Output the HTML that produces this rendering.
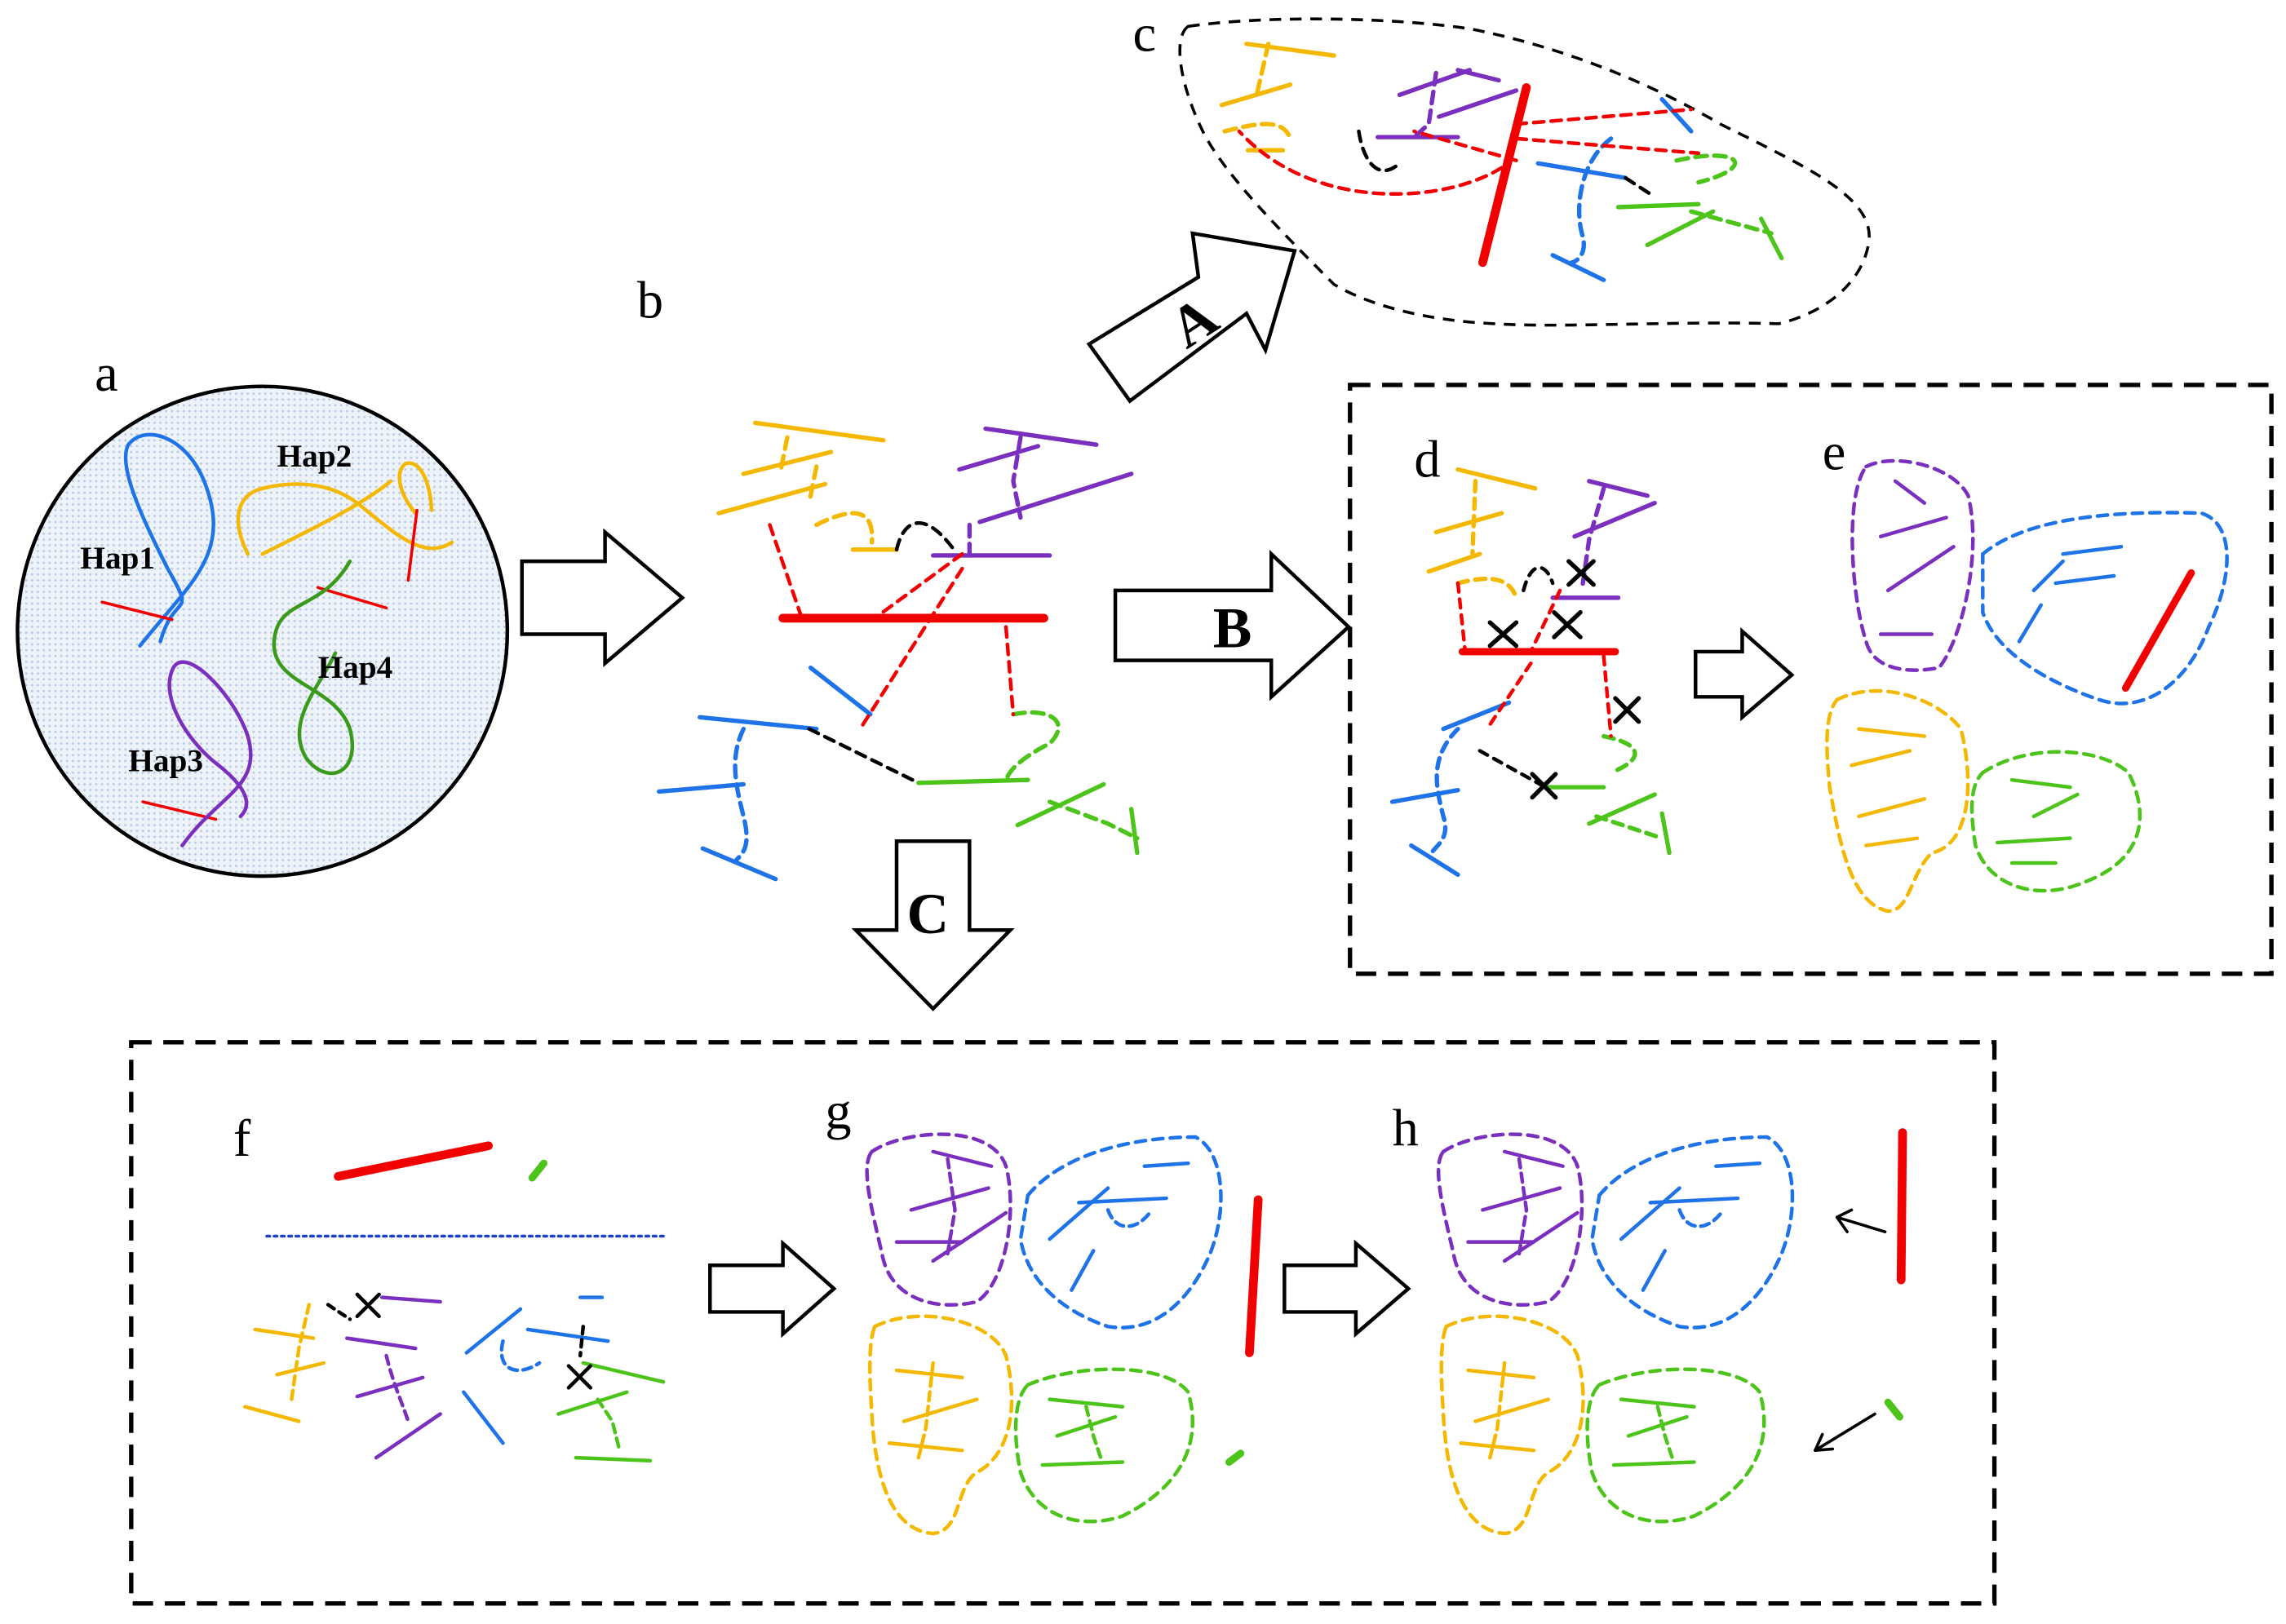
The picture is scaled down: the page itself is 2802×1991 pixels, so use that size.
<!DOCTYPE html>
<html><head><meta charset="utf-8"><style>
html,body{margin:0;padding:0;background:#fff;}
svg{display:block;}
text{font-family:"Liberation Serif",serif;}
</style></head><body>
<svg width="2802" height="1991" viewBox="0 0 1568 1114" xmlns="http://www.w3.org/2000/svg">
<defs>
<pattern id="dots" width="4" height="4" patternUnits="userSpaceOnUse"><rect width="4" height="4" fill="#eef3fa"/><circle cx="2" cy="2" r="0.8" fill="#b7c9e3"/></pattern>
</defs>
<g fill="none" stroke-linecap="round" stroke-linejoin="round">
<!-- panel a -->
<circle cx="180" cy="433" r="168" fill="url(#dots)" stroke="#000" stroke-width="2.5"/>
<path d="M96 443 C130 400 160 380 140 330 C128 300 100 290 88 305 C80 320 100 360 115 390 C135 425 120 405 110 440" stroke="#1e73e8" stroke-width="2.5"/>
<path d="M170 380 C160 360 160 340 180 335 C200 330 225 330 245 345 C270 365 290 385 310 372 M285 352 C275 340 270 325 278 318 C288 315 295 330 296 350 M180 380 C220 360 250 345 268 330" stroke="#f5b800" stroke-width="2.5"/>
<path d="M286 350 L280 398 M70 413 L118 425 M218 403 L265 417 M98 550 L148 562" stroke="#f20000" stroke-width="2"/>
<path d="M240 385 C220 420 190 410 188 440 C186 470 230 470 240 500 C248 530 225 540 210 520 C195 495 220 470 230 448" stroke="#3a9a1a" stroke-width="2.5"/>
<path d="M125 580 C150 545 180 540 170 505 C160 475 125 440 118 460 C110 480 130 510 150 525 C175 545 170 555 165 560" stroke="#7b2fbe" stroke-width="2.5"/>
</g>
<g font-size="22" font-weight="bold" fill="#000">
<text x="55" y="390">Hap1</text><text x="190" y="320">Hap2</text><text x="218" y="465">Hap4</text><text x="88" y="529">Hap3</text>
</g>
<g font-size="36" fill="#000">
<text x="65" y="268">a</text><text x="437" y="218">b</text><text x="777" y="35">c</text><text x="970" y="327">d</text><text x="1250" y="322">e</text><text x="160" y="793">f</text><text x="566" y="774">g</text><text x="955" y="786">h</text>
</g>
<!-- block arrows -->
<g fill="#fff" stroke="#000" stroke-width="2.5" stroke-linejoin="miter">
<path d="M358 385 H415 V365 L468 410 L415 455 V435 H358 Z"/>
<path d="M765 405 H872 V380 L925 430 L872 478 V453 H765 Z"/>
<path d="M615 577 H665 V638 H693 L640 692 L587 638 H615 Z"/>
<path d="M1163 447 H1195 V433 L1229 463 L1195 492 V478 H1163 Z"/>
<path d="M487 868 H537 V853 L572 884 L537 915 V900 H487 Z"/>
<path d="M881 868 H930 V853 L966 884 L930 915 V900 H881 Z"/>
<path d="M747 236 L822 190 L818 160 L888 172 L868 240 L855 215 L775 275 Z"/>
</g>
<g font-size="40" font-weight="bold" fill="#000">
<text x="832" y="444">B</text><text x="622" y="640">C</text>
<text x="0" y="0" text-anchor="middle" transform="translate(826 232) rotate(-33)">A</text>
</g>
<!-- dashed rects -->
<g fill="none" stroke="#000" stroke-width="3" stroke-dasharray="14 8">
<rect x="926" y="264" width="632" height="404"/>
<rect x="90" y="715" width="1278" height="385"/>
<path d="M815 18 C870 10 960 12 1010 20 C1060 30 1120 50 1180 85 C1240 115 1285 135 1282 165 C1278 195 1250 215 1220 222 C1150 220 1070 225 1025 222 C980 220 940 210 915 195 C880 160 840 120 825 90 C808 55 805 25 815 18 Z" stroke-width="2" stroke-dasharray="8 6"/>
</g>
<g fill="none" stroke-width="3" stroke-linecap="round">
<!-- panel b -->
<line x1="537" y1="424" x2="716" y2="424" stroke="#f20000" stroke-width="6"/>
<g stroke="#f5b800"><line x1="518" y1="290" x2="606" y2="302"/><line x1="510" y1="325" x2="570" y2="310"/><line x1="493" y1="352" x2="566" y2="332"/><line x1="585" y1="377" x2="615" y2="377"/><path d="M540 300 L535 325 M560 320 L555 345 M560 360 C580 350 600 345 598 372" stroke-dasharray="8 5"/></g>
<g stroke="#7b2fbe"><line x1="676" y1="294" x2="752" y2="305"/><line x1="658" y1="322" x2="712" y2="306"/><line x1="672" y1="358" x2="776" y2="325"/><line x1="640" y1="381" x2="720" y2="381"/><path d="M700 300 L695 330 L700 355 M665 360 L665 381" stroke-dasharray="8 5"/></g>
<g stroke="#1e73e8"><line x1="480" y1="492" x2="560" y2="500"/><line x1="452" y1="543" x2="510" y2="538"/><line x1="482" y1="582" x2="532" y2="603"/><line x1="556" y1="458" x2="597" y2="490"/><path d="M510 500 C500 520 505 540 510 560 C515 580 510 585 505 590" stroke-dasharray="8 5"/></g>
<g stroke="#4cc41a"><line x1="630" y1="537" x2="705" y2="535"/><line x1="698" y1="566" x2="757" y2="538"/><line x1="776" y1="555" x2="780" y2="585"/><path d="M695 490 C720 485 735 495 720 510 C700 520 690 530 690 537 M720 550 L760 565 L780 575" stroke-dasharray="8 5"/></g>
<g stroke="#f20000" stroke-dasharray="7 5" stroke-width="2.5"><path d="M528 360 L550 424 M660 380 L600 424 M660 390 L590 500 M690 430 L695 490"/></g>
<g stroke="#000" stroke-dasharray="7 5" stroke-width="2.5"><path d="M555 500 L630 537 M615 377 C620 355 635 350 655 378"/></g>
<!-- panel c -->
<line x1="1047" y1="60" x2="1017" y2="180" stroke="#f20000" stroke-width="6"/>
<g stroke="#f5b800"><line x1="855" y1="30" x2="915" y2="38"/><line x1="838" y1="72" x2="885" y2="58"/><line x1="856" y1="103" x2="880" y2="103"/><path d="M870 30 L862 65 M840 90 C860 85 880 80 885 95" stroke-dasharray="8 5"/></g>
<g stroke="#7b2fbe"><line x1="1000" y1="48" x2="1028" y2="55"/><line x1="960" y1="65" x2="1008" y2="48"/><line x1="987" y1="80" x2="1040" y2="62"/><line x1="945" y1="94" x2="1000" y2="94"/><path d="M985 50 L980 85 L970 94" stroke-dasharray="8 5"/></g>
<g stroke="#1e73e8"><line x1="1140" y1="68" x2="1160" y2="90"/><line x1="1055" y1="112" x2="1115" y2="122"/><line x1="1065" y1="175" x2="1100" y2="192"/><path d="M1105 95 C1085 110 1080 140 1085 160 C1090 175 1080 180 1078 180" stroke-dasharray="8 5"/></g>
<g stroke="#4cc41a"><line x1="1110" y1="142" x2="1165" y2="140"/><line x1="1130" y1="168" x2="1175" y2="145"/><line x1="1208" y1="150" x2="1222" y2="177"/><path d="M1150 110 C1195 100 1205 115 1165 125 M1160 145 L1215 160" stroke-dasharray="8 5"/></g>
<g stroke="#f20000" stroke-dasharray="7 5" stroke-width="2.5"><path d="M1040 85 L1160 75 M1040 95 L1165 105 M1040 110 L970 90 M1030 115 C990 140 900 145 850 90"/></g>
<g stroke="#000" stroke-dasharray="7 5" stroke-width="2.5"><path d="M932 90 C935 110 945 125 960 112 M1115 122 L1135 135"/></g>
<!-- panel d -->
<line x1="1003" y1="447" x2="1108" y2="447" stroke="#f20000" stroke-width="5"/>
<g stroke="#f5b800"><line x1="1000" y1="322" x2="1053" y2="335"/><line x1="985" y1="365" x2="1030" y2="352"/><line x1="980" y1="392" x2="1015" y2="380"/><path d="M1012 330 L1010 380 M1000 400 C1020 395 1035 395 1040 410" stroke-dasharray="7 5"/></g>
<g stroke="#7b2fbe"><line x1="1090" y1="330" x2="1130" y2="340"/><line x1="1080" y1="368" x2="1135" y2="345"/><line x1="1065" y1="410" x2="1110" y2="410"/><path d="M1100 335 L1090 370 L1085 405" stroke-dasharray="7 5"/></g>
<g stroke="#1e73e8"><line x1="990" y1="500" x2="1035" y2="482"/><line x1="955" y1="550" x2="1000" y2="542"/><line x1="968" y1="580" x2="1000" y2="600"/><path d="M1000 500 C980 520 985 540 990 560 C995 575 985 580 982 585" stroke-dasharray="7 5"/></g>
<g stroke="#4cc41a"><line x1="1060" y1="540" x2="1100" y2="540"/><line x1="1090" y1="565" x2="1135" y2="545"/><line x1="1140" y1="558" x2="1145" y2="585"/><path d="M1100 505 C1125 510 1130 520 1105 530 M1095 560 L1140 575" stroke-dasharray="7 5"/></g>
<g stroke="#f20000" stroke-dasharray="6 5" stroke-width="2.5"><path d="M1000 400 L1005 447 M1070 405 L1050 447 M1050 455 L1020 500 M1100 450 L1105 505"/></g>
<g stroke="#000" stroke-dasharray="6 5" stroke-width="2.5"><path d="M1015 515 L1060 540 M1045 405 C1050 385 1060 385 1065 400"/></g>
<g stroke="#000" stroke-width="3"><path d="M1022 427 L1040 443 M1040 427 L1022 443 M1066 420 L1084 437 M1084 420 L1066 437 M1076 385 L1093 401 M1093 385 L1076 401 M1108 479 L1124 495 M1124 479 L1108 495 M1051 531 L1067 547 M1067 531 L1051 547"/></g>
<!-- panel e -->
<line x1="1503" y1="393" x2="1458" y2="472" stroke="#f20000" stroke-width="5"/>
<g stroke-dasharray="7 5" stroke-width="2.5">
<path d="M1280 320 C1300 310 1340 320 1350 340 C1360 380 1345 440 1330 458 C1310 462 1285 460 1280 440 C1270 410 1265 340 1280 320 Z" stroke="#7b2fbe"/>
<path d="M1360 380 C1390 355 1450 350 1510 352 C1535 360 1530 400 1515 430 C1500 470 1470 490 1440 480 C1410 470 1370 450 1360 420 Z" stroke="#1e73e8"/>
<path d="M1260 480 C1290 465 1330 480 1345 500 C1355 540 1350 580 1325 585 C1310 600 1310 625 1295 625 C1270 620 1262 580 1255 540 C1252 510 1252 490 1260 480 Z" stroke="#f5b800"/>
<path d="M1360 530 C1390 510 1440 512 1460 530 C1475 560 1470 590 1430 605 C1400 618 1365 610 1355 580 C1352 560 1350 540 1360 530 Z" stroke="#4cc41a"/>
</g>
<g stroke="#7b2fbe" stroke-width="2.5"><line x1="1300" y1="330" x2="1320" y2="345"/><line x1="1290" y1="368" x2="1335" y2="355"/><line x1="1295" y1="405" x2="1340" y2="375"/><line x1="1290" y1="435" x2="1325" y2="435"/></g>
<g stroke="#1e73e8" stroke-width="2.5"><line x1="1415" y1="380" x2="1455" y2="375"/><line x1="1395" y1="405" x2="1415" y2="385"/><line x1="1410" y1="400" x2="1450" y2="395"/><line x1="1385" y1="440" x2="1400" y2="415"/></g>
<g stroke="#f5b800" stroke-width="2.5"><line x1="1275" y1="500" x2="1320" y2="505"/><line x1="1270" y1="525" x2="1310" y2="515"/><line x1="1275" y1="560" x2="1320" y2="548"/><line x1="1280" y1="580" x2="1315" y2="575"/></g>
<g stroke="#4cc41a" stroke-width="2.5"><line x1="1380" y1="535" x2="1420" y2="540"/><line x1="1395" y1="560" x2="1425" y2="545"/><line x1="1370" y1="578" x2="1420" y2="575"/><line x1="1380" y1="592" x2="1410" y2="592"/></g>
<!-- panel f -->
<line x1="232" y1="807" x2="335" y2="786" stroke="#f20000" stroke-width="6"/>
<line x1="365" y1="808" x2="373" y2="798" stroke="#4cc41a" stroke-width="5"/>
<line x1="183" y1="848" x2="458" y2="848" stroke="#1e40c8" stroke-width="2" stroke-dasharray="2 3"/>
<g stroke="#f5b800" stroke-width="2.5"><line x1="175" y1="912" x2="215" y2="918"/><line x1="190" y1="943" x2="222" y2="935"/><line x1="168" y1="965" x2="205" y2="975"/><path d="M212 895 L205 925 L200 960" stroke-dasharray="6 4"/></g>
<g stroke="#7b2fbe" stroke-width="2.5"><line x1="262" y1="890" x2="302" y2="893"/><line x1="238" y1="918" x2="285" y2="925"/><line x1="245" y1="958" x2="290" y2="945"/><line x1="258" y1="1000" x2="302" y2="970"/><path d="M265 930 C270 950 275 960 280 975" stroke-dasharray="6 4"/></g>
<g stroke="#1e73e8" stroke-width="2.5"><line x1="320" y1="928" x2="357" y2="898"/><line x1="362" y1="912" x2="417" y2="920"/><line x1="398" y1="890" x2="413" y2="890"/><line x1="318" y1="955" x2="345" y2="990"/><path d="M345 920 C340 940 355 945 370 935" stroke-dasharray="6 4"/></g>
<g stroke="#4cc41a" stroke-width="2.5"><line x1="400" y1="935" x2="455" y2="948"/><line x1="383" y1="970" x2="430" y2="955"/><line x1="395" y1="1000" x2="446" y2="1002"/><path d="M410 960 L420 975 L425 995" stroke-dasharray="6 4"/></g>
<g stroke="#000" stroke-width="2.5"><path d="M245 888 L260 903 M260 888 L245 903 M390 937 L405 952 M405 937 L390 952"/><path d="M225 895 L240 905 M400 910 L398 930" stroke-dasharray="5 4"/></g>
</g>
<!-- panels g and h (shared clusters) -->
<g id="gclu" fill="none" stroke-linecap="round" stroke-width="2.5">
<g stroke-dasharray="7 5">
<path d="M598 790 C620 775 680 770 690 800 C698 830 690 880 670 893 C640 900 610 890 605 860 C598 830 590 800 598 790 Z" stroke="#7b2fbe"/>
<path d="M705 820 C730 790 780 780 820 780 C840 790 842 830 830 860 C815 895 790 915 760 910 C730 900 705 880 700 850 Z" stroke="#1e73e8"/>
<path d="M600 910 C630 895 680 905 690 930 C700 970 690 1000 670 1010 C655 1020 660 1050 640 1052 C610 1050 600 1010 598 970 C596 940 596 920 600 910 Z" stroke="#f5b800"/>
<path d="M705 950 C740 935 800 935 815 955 C825 990 810 1020 770 1040 C740 1050 710 1040 700 1010 C695 985 695 960 705 950 Z" stroke="#4cc41a"/>
</g>
<g stroke="#7b2fbe"><line x1="640" y1="790" x2="680" y2="800"/><line x1="625" y1="830" x2="678" y2="815"/><line x1="640" y1="865" x2="690" y2="832"/><line x1="615" y1="852" x2="660" y2="852"/><path d="M650 795 L655 830 L650 860" stroke-dasharray="6 4"/></g>
<g stroke="#1e73e8"><line x1="785" y1="800" x2="815" y2="798"/><line x1="740" y1="825" x2="800" y2="822"/><line x1="720" y1="850" x2="760" y2="815"/><line x1="735" y1="885" x2="750" y2="858"/><path d="M760 830 C765 845 780 845 790 830" stroke-dasharray="6 4"/></g>
<g stroke="#f5b800"><line x1="615" y1="940" x2="660" y2="945"/><line x1="620" y1="975" x2="670" y2="960"/><line x1="610" y1="990" x2="660" y2="995"/><path d="M640 935 L635 980 L630 1000" stroke-dasharray="6 4"/></g>
<g stroke="#4cc41a"><line x1="720" y1="960" x2="770" y2="965"/><line x1="725" y1="985" x2="765" y2="972"/><line x1="715" y1="1005" x2="770" y2="1003"/><path d="M745 965 L750 985 L755 1000" stroke-dasharray="6 4"/></g>
</g>
<use href="#gclu" transform="translate(392,0)"/>
<g stroke-linecap="round">
<line x1="863" y1="823" x2="857" y2="928" stroke="#f20000" stroke-width="6"/>
<line x1="843" y1="1003" x2="851" y2="997" stroke="#4cc41a" stroke-width="5"/>
<line x1="1305" y1="777" x2="1304" y2="878" stroke="#f20000" stroke-width="6"/>
<line x1="1295" y1="962" x2="1303" y2="972" stroke="#4cc41a" stroke-width="5"/>
<g stroke="#000" stroke-width="2" fill="none"><path d="M1293 845 L1260 835 M1260 835 L1270 830 M1260 835 L1267 845"/><path d="M1286 970 L1245 995 M1245 995 L1250 984 M1245 995 L1257 994"/></g>
</g>
</svg>
</body></html>
